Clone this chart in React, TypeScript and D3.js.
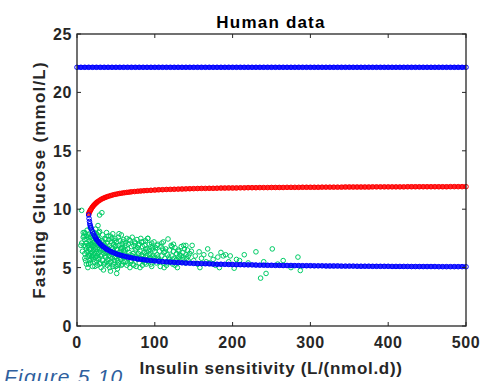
import React from 'react';
import * as d3 from 'd3';

// ---- data ----
const xTicks = [0, 100, 200, 300, 400, 500];
const yTicks = [0, 5, 10, 15, 20, 25];

// x positions of the model markers (insulin sensitivity)
const modelX = [15, 15.5, 16, 16.5, 17, 17.5, 18, 19, 20, 21, 22, 23, 24, 25, 26, 28, 30, 32, 34, 36, 38, 40, 43, 46, 49, 52, 55, 58, 61, 64, 67, 70, 74, 78, 82, 86, 90, 95, 100,
  105, 110, 115, 120, 125, 130, 135, 140, 145, 150, 155, 160, 165, 170, 175, 180, 185, 190, 195, 200,
  205, 210, 215, 220, 225, 230, 235, 240, 245, 250, 255, 260, 265, 270, 275, 280, 285, 290, 295, 300,
  305, 310, 315, 320, 325, 330, 335, 340, 345, 350, 355, 360, 365, 370, 375, 380, 385, 390, 395, 400,
  405, 410, 415, 420, 425, 430, 435, 440, 445, 450, 455, 460, 465, 470, 475, 480, 485, 490, 495, 500];

// red branch (unstable steady state)
const redY = [9.60, 9.68, 9.75, 9.82, 9.88, 9.94, 10.00, 10.11, 10.20, 10.29, 10.36, 10.43, 10.50, 10.56, 10.62, 10.71, 10.80, 10.88, 10.94, 11.00, 11.05, 11.10, 11.16, 11.22, 11.27, 11.31, 11.35, 11.38, 11.41, 11.44, 11.46, 11.49, 11.51, 11.54, 11.56, 11.58, 11.60, 11.62, 11.64,
  11.66, 11.67, 11.69, 11.70, 11.71, 11.72, 11.73, 11.74, 11.75, 11.76, 11.77, 11.78, 11.78, 11.79, 11.79, 11.80, 11.81, 11.81, 11.82, 11.82,
  11.82, 11.83, 11.83, 11.84, 11.84, 11.84, 11.85, 11.85, 11.85, 11.86, 11.86, 11.86, 11.86, 11.87, 11.87, 11.87, 11.87, 11.88, 11.88, 11.88,
  11.88, 11.88, 11.89, 11.89, 11.89, 11.89, 11.89, 11.89, 11.90, 11.90, 11.90, 11.90, 11.90, 11.90, 11.90, 11.91, 11.91, 11.91, 11.91, 11.91,
  11.91, 11.91, 11.91, 11.91, 11.92, 11.92, 11.92, 11.92, 11.92, 11.92, 11.92, 11.92, 11.92, 11.92, 11.92, 11.93, 11.93, 11.93, 11.93, 11.93];

// blue lower branch (stable normal steady state)
const blueLowY = [9.50, 9.20, 8.95, 8.75, 8.60, 8.48, 8.39, 8.21, 8.05, 7.90, 7.77, 7.65, 7.53, 7.43, 7.33, 7.16, 7.02, 6.89, 6.77, 6.67, 6.58, 6.50, 6.39, 6.30, 6.22, 6.14, 6.08, 6.02, 5.97, 5.92, 5.88, 5.84, 5.79, 5.74, 5.71, 5.67, 5.64, 5.60, 5.57,
  5.54, 5.51, 5.49, 5.47, 5.45, 5.43, 5.41, 5.39, 5.38, 5.36, 5.35, 5.34, 5.33, 5.32, 5.30, 5.29, 5.29, 5.28, 5.27, 5.26,
  5.25, 5.25, 5.24, 5.23, 5.23, 5.22, 5.21, 5.21, 5.20, 5.20, 5.19, 5.19, 5.18, 5.18, 5.18, 5.17, 5.17, 5.16, 5.16, 5.16,
  5.15, 5.15, 5.15, 5.14, 5.14, 5.14, 5.14, 5.13, 5.13, 5.13, 5.13, 5.12, 5.12, 5.12, 5.12, 5.11, 5.11, 5.11, 5.11, 5.11,
  5.10, 5.10, 5.10, 5.10, 5.10, 5.09, 5.09, 5.09, 5.09, 5.09, 5.09, 5.09, 5.08, 5.08, 5.08, 5.08, 5.08, 5.08, 5.08, 5.07];

// blue upper branch (pathological high steady state)
const flatX = [0, 5, 10, 15, 20, 25, 30, 35, 40, 45, 50, 55, 60, 65, 70, 75, 80, 85, 90, 95, 100,
  105, 110, 115, 120, 125, 130, 135, 140, 145, 150, 155, 160, 165, 170, 175, 180, 185, 190, 195, 200,
  205, 210, 215, 220, 225, 230, 235, 240, 245, 250, 255, 260, 265, 270, 275, 280, 285, 290, 295, 300,
  305, 310, 315, 320, 325, 330, 335, 340, 345, 350, 355, 360, 365, 370, 375, 380, 385, 390, 395, 400,
  405, 410, 415, 420, 425, 430, 435, 440, 445, 450, 455, 460, 465, 470, 475, 480, 485, 490, 495, 500];
const flatGlucose = 22.15;

// observed human data: [insulin sensitivity, fasting glucose]
const observed: [number, number][] = [
  [6, 9.9], [29, 9.5], [32, 9.7], [8, 8.0], [27, 8.6], [10, 8.0], [5, 6.9], [6, 7.1], [7, 6.4], [8, 7.6],
  [9, 6.9], [10, 7.4], [10, 6.2], [11, 5.6], [11, 7.9], [12, 6.6], [12, 7.1], [13, 5.9], [13, 8.2], [14, 6.4], [14, 7.6], [15, 5.3], [15, 6.9], [16, 7.3], [16, 6.0], [17, 8.4], [17, 6.5], [18, 5.7], [18, 7.0], [19, 7.8], [19, 6.3], [20, 5.1], [20, 6.8], [21, 7.5], [21, 6.1], [22, 8.0], [22, 5.5], [23, 6.7], [23, 7.2], [24, 5.9], [24, 8.3], [25, 6.4], [25, 7.0], [26, 5.2], [26, 7.7], [27, 6.2], [27, 6.9], [28, 5.7], [28, 7.4], [29, 6.6], [29, 8.1], [30, 5.4], [30, 7.1],
  [11, 6.8], [12, 5.3], [13, 7.4], [14, 5.0], [15, 7.8], [16, 6.6], [17, 5.4], [18, 7.6], [19, 5.9], [20, 7.3], [21, 6.5], [22, 6.9], [23, 5.1], [24, 6.6], [25, 7.9], [26, 6.0], [27, 7.5], [28, 6.3], [29, 5.3], [30, 6.4], [10, 5.8], [9, 7.7], [12, 7.7], [14, 6.9], [16, 5.6], [18, 6.2], [20, 6.0], [22, 7.1], [24, 7.4], [26, 6.7], [28, 8.0], [30, 6.0], [13, 6.3], [15, 6.1], [17, 7.0], [19, 6.9], [21, 5.7], [23, 6.2], [25, 5.6], [27, 5.8], [29, 7.0],
  [31, 6.8], [31, 5.0], [32, 7.3], [32, 6.1], [33, 5.6], [33, 7.8], [34, 6.5], [34, 4.8], [35, 7.0], [35, 6.2], [36, 5.4], [36, 7.5], [37, 6.7], [37, 5.9], [38, 8.0], [38, 6.3], [39, 5.2], [39, 7.1], [40, 6.6], [40, 5.7], [41, 7.4], [41, 6.0], [42, 5.0], [42, 6.9], [43, 7.7], [43, 6.4], [44, 5.5], [44, 7.2], [45, 6.1], [45, 5.8], [46, 7.9], [46, 6.6], [47, 5.3], [47, 7.0], [48, 6.3], [48, 5.6], [49, 7.5], [49, 6.8], [50, 5.1], [50, 6.2], [51, 7.2], [51, 5.8], [52, 6.5], [52, 4.9], [53, 7.6], [53, 6.0], [54, 5.4], [54, 6.9], [55, 6.3], [55, 7.3], [56, 5.7], [56, 6.6], [57, 7.8], [57, 5.2], [58, 6.1], [58, 7.0], [59, 5.5], [59, 6.7], [60, 7.4], [60, 5.9],
  [32, 6.6], [34, 7.2], [36, 6.0], [38, 5.5], [40, 7.7], [42, 6.3], [44, 6.7], [46, 5.1], [48, 7.3], [50, 6.9], [52, 5.6], [54, 7.9], [56, 6.1], [58, 5.3], [60, 6.5], [33, 6.9], [35, 5.3], [37, 7.4], [39, 6.4], [41, 5.4], [43, 5.9], [45, 7.5], [47, 6.4], [49, 5.9], [51, 6.6], [53, 5.2], [55, 5.9], [57, 6.7], [59, 7.2], [43, 4.7], [51, 4.5],
  [61, 6.3], [62, 5.5], [62, 7.1], [63, 6.0], [64, 7.5], [64, 5.2], [65, 6.6], [66, 5.8], [66, 7.0], [67, 6.3], [68, 5.0], [68, 7.3], [69, 6.1], [70, 6.8], [70, 5.6], [71, 7.6], [72, 6.2], [72, 5.3], [73, 6.9], [74, 5.9], [74, 7.2], [75, 6.5], [76, 5.1], [76, 6.0], [77, 7.4], [78, 5.7], [78, 6.7], [79, 6.2], [80, 5.4], [80, 7.0], [81, 6.4], [82, 5.8], [82, 7.5], [83, 6.1], [84, 5.2], [84, 6.8], [85, 7.2], [86, 5.6], [86, 6.3], [87, 6.9], [88, 5.9], [88, 7.3], [89, 5.3], [90, 6.6], [90, 6.0], [91, 7.5], [92, 5.5], [92, 6.4], [93, 7.0], [94, 5.8], [94, 6.2], [95, 6.8], [96, 5.1], [96, 7.1], [97, 6.0], [98, 5.6], [98, 6.6], [99, 7.2], [100, 5.9], [100, 6.4],
  [63, 6.9], [65, 5.4], [67, 7.4], [69, 5.5], [71, 6.0], [73, 5.2], [75, 7.1], [77, 5.8], [79, 6.9], [81, 5.0], [83, 7.2], [85, 6.0], [87, 5.4], [89, 6.4], [91, 5.7], [93, 6.1], [95, 5.3], [97, 6.7], [99, 5.8], [62, 6.5], [76, 6.6], [88, 6.6],
  [101, 6.7], [102, 5.4], [103, 6.1], [104, 7.0], [105, 5.7], [106, 6.4], [107, 5.1], [108, 6.8], [109, 6.0], [110, 5.5], [111, 7.2], [112, 6.3], [113, 5.8], [114, 6.6], [115, 5.2], [116, 6.1], [117, 7.45], [118, 5.9], [119, 6.5], [120, 5.5], [121, 6.9], [122, 6.0], [123, 5.3], [124, 6.4], [125, 5.8], [126, 6.7], [127, 5.6], [128, 6.2], [129, 5.0], [130, 6.5], [131, 5.9], [132, 6.1], [133, 5.5], [134, 6.8], [135, 5.7], [136, 6.3], [137, 5.9], [138, 6.6], [139, 5.4], [140, 6.1], [141, 5.8], [142, 6.5], [143, 5.6], [145, 6.2], [104, 5.9], [110, 6.6], [116, 5.4], [122, 6.8], [128, 5.7], [134, 6.0], [140, 6.9], [91, 7.5],
  [103, 6.9], [106, 5.6], [109, 7.1], [113, 6.4], [119, 5.7], [124, 7.0], [131, 6.4], [137, 6.9], [143, 6.0], [112, 5.0], [126, 5.2],
  [147, 6.4], [150, 5.6], [152, 6.0], [155, 5.3], [157, 6.35], [160, 5.8], [163, 6.1], [166, 5.5], [168, 6.6], [172, 6.1], [175, 5.7], [178, 5.2], [181, 5.9], [185, 6.3], [188, 6.0], [191, 6.1], [195, 5.5], [197, 6.0], [148, 6.9], [158, 5.0], [170, 5.4], [183, 5.0],
  [202, 4.95], [205, 5.7], [209, 5.6], [215, 6.1], [220, 5.4], [230, 6.35], [236, 4.1], [240, 5.5], [243, 4.5], [251, 6.6], [258, 5.3], [265, 5.6], [275, 5.0], [284, 5.9], [287, 4.75],
];

const title = 'Human data';
const xLabel = 'Insulin sensitivity (L/(nmol.d))';
const yLabel = 'Fasting Glucose (mmol/L)';
const figureCaption = 'Figure 5.10';

const W = 483;
const H = 381;
const FONT = '"Liberation Sans", Arial, Helvetica, sans-serif';

export default function App() {
  const x = d3.scaleLinear().domain([0, 500]).range([77, 466]);
  const y = d3.scaleLinear().domain([0, 25]).range([326, 34]);
  const [x0, x1] = x.range();
  const [y0, y1] = y.range();
  const axisColor = '#262626';
  const tickLen = 4;
  const r = 2.3;
  const green = 'rgb(0,204,102)';

  // dense marker trails rendered as a band through the markers (the markers overlap into a solid band)
  const line = d3.line<[number, number]>()
    .x((d) => x(d[0]))
    .y((d) => y(d[1]))
    .curve(d3.curveMonotoneX);
  const redPts: [number, number][] = modelX.map((a, i) => [a, redY[i]]);
  const bluePts: [number, number][] = modelX.map((a, i) => [a, blueLowY[i]]);
  const flatPts: [number, number][] = flatX.map((a) => [a, flatGlucose]);
  const bandWidth = 4.4;

  return (
    <svg width={W} height={H} style={{ position: 'fixed', left: 0, top: 0, background: '#fff' }} fontFamily={FONT}>
      <rect x={0} y={0} width={W} height={H} fill="#fff" />
      {/* data */}
      <g fill="none" strokeWidth={1}>
        {observed.map(([a, b], i) => (
          <circle key={'g' + i} cx={x(a)} cy={y(b)} r={r} stroke={green} />
        ))}
        <path d={line(redPts.filter((d) => d[0] >= 19)) || ''} stroke="#ff0000" strokeWidth={bandWidth} opacity={0.85} />
        {modelX.map((a, i) => (
          <circle key={'r' + i} cx={x(a)} cy={y(redY[i])} r={r} stroke="#ff0000" />
        ))}
        <path d={line(bluePts.filter((d) => d[0] >= 24)) || ''} stroke="#0000ff" strokeWidth={bandWidth} opacity={0.85} />
        {modelX.map((a, i) => (
          <circle key={'b' + i} cx={x(a)} cy={y(blueLowY[i])} r={r} stroke="#0000ff" />
        ))}
        <path d={line(flatPts) || ''} stroke="#0000ff" strokeWidth={bandWidth} opacity={0.9} />
        {flatX.map((a, i) => (
          <circle key={'f' + i} cx={x(a)} cy={y(flatGlucose)} r={r} stroke="#0000ff" />
        ))}
      </g>
      {/* axes box */}
      <rect x={x0} y={y1} width={x1 - x0} height={y0 - y1} fill="none" stroke={axisColor} strokeWidth={1.3} />
      <g stroke={axisColor} strokeWidth={1}>
        {xTicks.map((t) => (
          <g key={'xt' + t}>
            <line x1={x(t)} x2={x(t)} y1={y0} y2={y0 - tickLen} />
            <line x1={x(t)} x2={x(t)} y1={y1} y2={y1 + tickLen} />
          </g>
        ))}
        {yTicks.map((t) => (
          <g key={'yt' + t}>
            <line x1={x0} x2={x0 + tickLen} y1={y(t)} y2={y(t)} />
            <line x1={x1} x2={x1 - tickLen} y1={y(t)} y2={y(t)} />
          </g>
        ))}
      </g>
      <g fontWeight="bold" fontSize={16} fill={axisColor} letterSpacing={0.6}>
        {xTicks.map((t) => (
          <text key={'xl' + t} x={x(t)} y={348} textAnchor="middle">{t}</text>
        ))}
        {yTicks.map((t) => (
          <text key={'yl' + t} x={x0 - 5} y={y(t) + 6} textAnchor="end">{t}</text>
        ))}
      </g>
      <text x={271} y={28} textAnchor="middle" fontWeight="bold" fontSize={17} letterSpacing={1.2} fill="#000">{title}</text>
      <text x={271} y={374} textAnchor="middle" fontWeight="bold" fontSize={17} letterSpacing={0.7} fill={axisColor}>{xLabel}</text>
      <text transform={`translate(45,${(y0 + y1) / 2}) rotate(-90)`} textAnchor="middle" fontWeight="bold" fontSize={17} letterSpacing={1.2} fill={axisColor}>{yLabel}</text>
      <text x={4} y={384} fontStyle="italic" fontSize={21} letterSpacing={1.2} fill="#2f5f9e">{figureCaption}</text>
    </svg>
  );
}
